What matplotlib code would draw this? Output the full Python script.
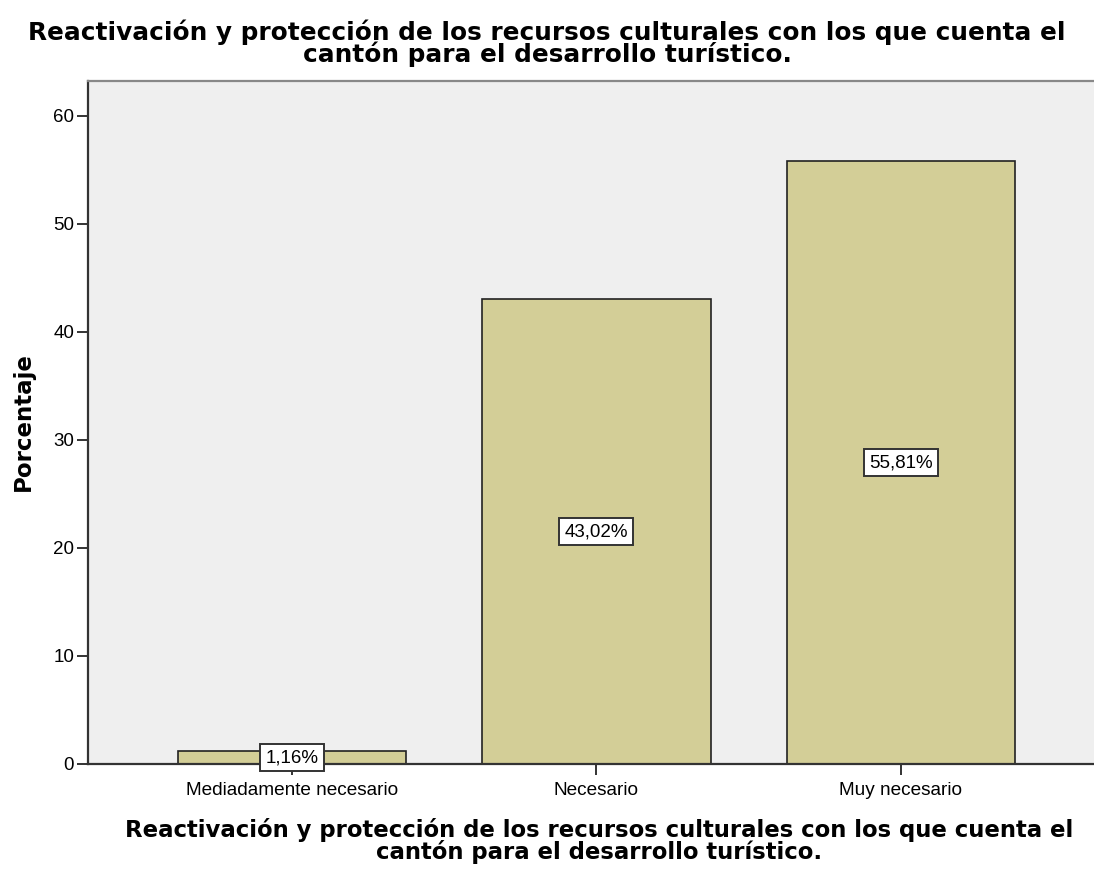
import matplotlib
matplotlib.use("Agg")
import matplotlib.pyplot as plt

plt.rcParams['font.family'] = ['Liberation Sans', 'DejaVu Sans']

categorias = ["Mediadamente necesario", "Necesario", "Muy necesario"]
porcentajes = [1.16, 43.02, 55.81]
etiquetas = ["1,16%", "43,02%", "55,81%"]
titulo = ("Reactivación y protección de los recursos culturales con los que cuenta el\n"
          "cantón para el desarrollo turístico.")

fig = plt.figure(figsize=(10.94, 8.72), dpi=100)
ax = fig.add_axes([0.0804, 0.1239, 0.9196, 0.7832])
ax.set_facecolor("#efefef")

x = list(range(len(categorias)))
ax.bar(x, porcentajes, width=0.75, color="#d3ce97", edgecolor="#222222", linewidth=1.2)

for xi, v, t in zip(x, porcentajes, etiquetas):
    ax.text(xi, v / 2, t, ha="center", va="center", fontsize=13.5,
            bbox=dict(boxstyle="square,pad=0.28", fc="white", ec="#333333", lw=1.4))

ax.set_xlim(-0.67, 2.634)
ax.set_ylim(0, 63.24)
ax.set_yticks([0, 10, 20, 30, 40, 50, 60])
ax.set_xticks(x)
ax.set_xticklabels(categorias, fontsize=13.7)
ax.tick_params(axis="y", labelsize=13.5, length=8, width=1.4, color="#333333", pad=2)
ax.tick_params(axis="x", length=8, width=1.4, color="#333333", pad=5)

ax.spines["right"].set_visible(False)
ax.spines["top"].set_color("#888888")
ax.spines["top"].set_linewidth(1.6)
for s in ["left", "bottom"]:
    ax.spines[s].set_color("#333333")
    ax.spines[s].set_linewidth(1.6)

negrita = ['DejaVu Sans']
fig.text(0.021, 0.516, "Porcentaje", rotation=90, ha="center", va="center",
         fontsize=16.5, fontweight="bold", family=negrita)
fig.text(0.5, 0.978, titulo, ha="center", va="top", fontsize=17.8,
         fontweight="bold", family=negrita, linespacing=0.85)
fig.text(0.548, 0.062, titulo, ha="center", va="top", fontsize=16.4,
         fontweight="bold", family=negrita, linespacing=0.9)

fig.savefig("out.png", dpi=100)
